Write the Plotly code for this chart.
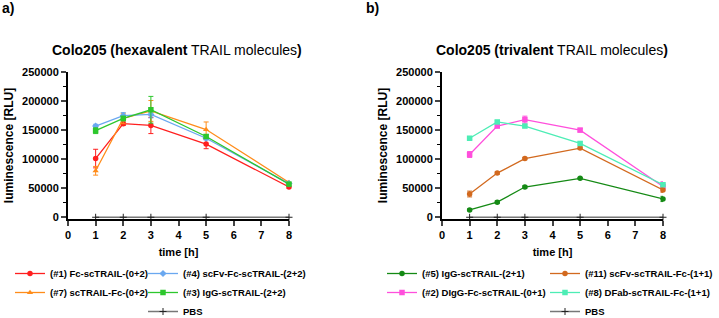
import plotly.graph_objects as go

times = [1, 2, 3, 5, 8]

# Panel a (hexavalent)
a_names = ["(#1) Fc-scTRAIL-(0+2)", "(#7) scTRAIL-Fc-(0+2)", "(#4) scFv-Fc-scTRAIL-(2+2)", "(#3) IgG-scTRAIL-(2+2)"]
a1_vals = [101000, 161000, 158000, 126000, 52000]
a1_err = [16000, 3000, 14000, 8000, 2000]
a7_vals = [80000, 170000, 183000, 151000, 60000]
a7_err = [7500, 9000, 18000, 13000, 2000]
a4_vals = [157000, 175000, 177000, 136000, 58000]
a4_err = [3000, 5000, 6000, 3000, 2000]
a3_vals = [149000, 170000, 185000, 139000, 57000]
a3_err = [5000, 4000, 23000, 3000, 2000]

# Panel b (trivalent)
b_names = ["(#5) IgG-scTRAIL-(2+1)", "(#2) DIgG-Fc-scTRAIL-(0+1)", "(#11) scFv-scTRAIL-Fc-(1+1)", "(#8) DFab-scTRAIL-Fc-(1+1)"]
b5_vals = [12700, 26000, 52000, 67000, 31500]
b5_err = [1500, 2000, 2000, 1500, 4500]
b2_vals = [108000, 157000, 168000, 150000, 53000]
b2_err = [5000, 3000, 6000, 3000, 8000]
b11_vals = [40000, 76000, 101000, 119000, 47000]
b11_err = [5000, 2000, 2000, 2000, 4000]
b8_vals = [136000, 164000, 157000, 127000, 56000]
b8_err = [2000, 2000, 2000, 3000, 3000]

pbs_vals = [0, 0, 0, 0, 0]

y_ticks = [0, 50000, 100000, 150000, 200000, 250000]
y_ticklabels = ["0", "50000", "100000", "150000", "200000", "250000"]
x_ticks = [0, 1, 2, 3, 4, 5, 6, 7, 8]

FONT = "Arial, Liberation Sans, sans-serif"

fig = go.Figure()

def add_series(name, vals, err, color, symbol, xa, ya, legend):
    fig.add_trace(go.Scatter(
        x=times, y=vals, name=name, mode="lines+markers",
        line=dict(color=color, width=1.3),
        marker=dict(color=color, symbol=symbol, size=5.5),
        error_y=dict(type="data", array=err, color=color, thickness=1, width=2.5),
        xaxis=xa, yaxis=ya, legend=legend, cliponaxis=False,
    ))

def add_pbs(xa, ya, legend, bold):
    fig.add_trace(go.Scatter(
        x=times, y=pbs_vals, name="<b>PBS</b>" if bold else "PBS", mode="lines+markers",
        line=dict(color="#777777", width=1.5),
        marker=dict(color="#222222", symbol="cross-thin", size=5, line=dict(width=1, color="#222222")),
        xaxis=xa, yaxis=ya, legend=legend, cliponaxis=False,
    ))

add_series(a_names[0], a1_vals, a1_err, "#FF1F1F", "circle", "x", "y", "legend")
add_series(a_names[1], a7_vals, a7_err, "#FF8C1A", "triangle-up", "x", "y", "legend")
add_series(a_names[2], a4_vals, a4_err, "#6AA8F0", "diamond", "x", "y", "legend2")
add_series(a_names[3], a3_vals, a3_err, "#2DC72D", "square", "x", "y", "legend2")
add_pbs("x", "y", "legend2", True)

add_series(b_names[0], b5_vals, b5_err, "#158A15", "circle", "x2", "y2", "legend3")
add_series(b_names[1], b2_vals, b2_err, "#FF4FDC", "square", "x2", "y2", "legend3")
add_series(b_names[2], b11_vals, b11_err, "#D2691E", "circle", "x2", "y2", "legend4")
add_series(b_names[3], b8_vals, b8_err, "#4DEDB5", "square", "x2", "y2", "legend4")
add_pbs("x2", "y2", "legend4", False)

W, H = 719, 318
def px_x(p):
    return p / W
def px_y(p):
    return 1 - p / H

xax = dict(range=[0, 8], tickvals=x_ticks, ticks="outside", ticklen=5, tickwidth=1.5,
           showline=True, linecolor="black", linewidth=2, showgrid=False, zeroline=False,
           tickfont=dict(family=FONT, size=11, color="black", weight="bold"),
           title=dict(text="time [h]", font=dict(family=FONT, size=11, color="black", weight="bold"), standoff=8))
yax = dict(range=[-3000, 250000], tickvals=y_ticks, ticktext=y_ticklabels, ticks="outside", ticklen=5, tickwidth=1.5,
           showline=True, linecolor="black", linewidth=2, showgrid=False, zeroline=False,
           minor=dict(ticks="outside", ticklen=3, tickwidth=1, dtick=25000, tick0=0, tickcolor="black"),
           tickfont=dict(family=FONT, size=11, color="black", weight="bold"),
           title=dict(text="luminescence [RLU]", font=dict(family=FONT, size=12, color="black", weight="bold"), standoff=6),
           domain=[px_y(219), px_y(72)])

fig.update_layout(
    width=W, height=H, margin=dict(l=0, r=0, t=0, b=0, autoexpand=False),
    paper_bgcolor="white", plot_bgcolor="white",
    font=dict(family=FONT, color="black"),
    xaxis=dict(xax, domain=[px_x(68), px_x(289)], anchor="y"),
    yaxis=dict(yax, anchor="x"),
    xaxis2=dict(xax, domain=[px_x(442), px_x(663)], anchor="y2"),
    yaxis2=dict(yax, anchor="x2"),
)

leg_common = dict(orientation="v", bgcolor="rgba(0,0,0,0)", itemwidth=30, tracegroupgap=0,
                  font=dict(family=FONT, size=9.5, color="black", weight="bold"),
                  xanchor="left", yanchor="top", itemclick=False)
fig.update_layout(
    legend=dict(leg_common, x=px_x(10), y=px_y(259)),
    legend2=dict(leg_common, x=px_x(143), y=px_y(259)),
    legend3=dict(leg_common, x=px_x(382), y=px_y(259)),
    legend4=dict(leg_common, x=px_x(545), y=px_y(259)),
)

annots = [
    dict(text="<b>a)</b>", x=0, y=px_y(8), xref="paper", yref="paper", xanchor="left", yanchor="middle",
         showarrow=False, font=dict(family=FONT, size=14, color="black")),
    dict(text="<b>b)</b>", x=px_x(364), y=px_y(8), xref="paper", yref="paper", xanchor="left", yanchor="middle",
         showarrow=False, font=dict(family=FONT, size=14, color="black")),
    dict(text="<b>Colo205 (hexavalent</b> TRAIL molecules<b>)</b>", x=px_x(177), y=px_y(50), xref="paper", yref="paper",
         xanchor="center", yanchor="middle", showarrow=False, font=dict(family=FONT, size=14, color="black")),
    dict(text="<b>Colo205 (trivalent</b> TRAIL molecules<b>)</b>", x=px_x(552), y=px_y(50), xref="paper", yref="paper",
         xanchor="center", yanchor="middle", showarrow=False, font=dict(family=FONT, size=14, color="black")),
]
fig.update_layout(annotations=annots)

fig.write_html("out.html")
